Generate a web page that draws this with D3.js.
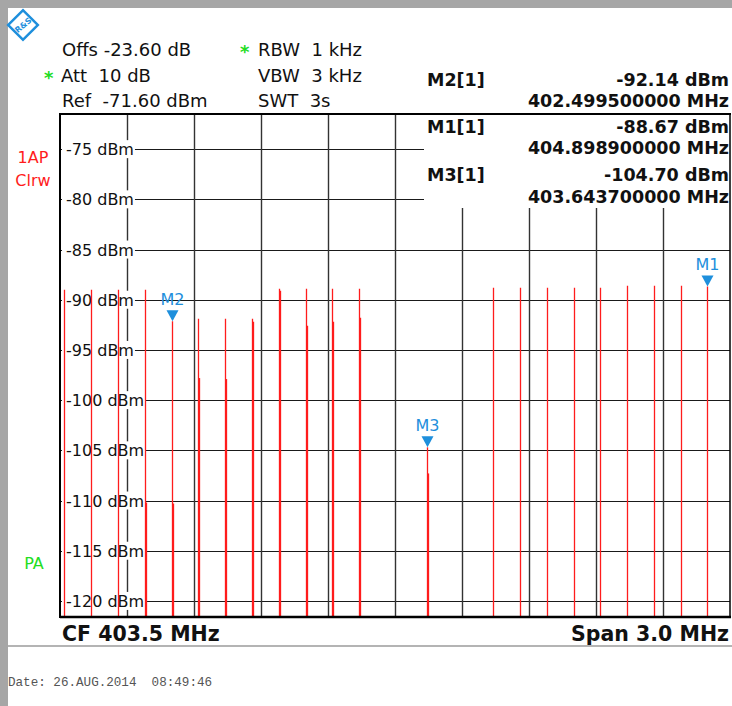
<!DOCTYPE html>
<html>
<head>
<meta charset="utf-8">
<script src="https://cdn.jsdelivr.net/npm/d3@7"></script>
<style>
  body { margin: 0; background: #fff; }
  svg { display: block; }
  text { white-space: pre; }
</style>
</head>
<body>
<svg id="screen"></svg>
<script>
// spectrum lines: frequency (MHz), peak level, level of the second pixel column
var freqs = [402.02, 402.14, 402.26, 402.38, 402.4995, 402.62, 402.74, 402.86, 402.98, 403.10, 403.22, 403.34,
             403.6437, 403.94, 404.06, 404.18, 404.30, 404.42, 404.54, 404.66, 404.78, 404.8989];
var peaks = [-89.0, -89.0, -89.0, -89.0, -92.14, -91.9, -91.9, -91.9, -88.9, -88.9, -88.9, -88.9,
             -104.70, -88.8, -88.8, -88.8, -88.8, -88.8, -88.6, -88.6, -88.6, -88.67];
var shoulders = [null, null, null, -110.2, -110.3, -97.8, -97.9, -92.2, -89.1, -92.6, -92.2, -91.8,
                 -107.3, null, null, null, null, null, null, null, null, null];

var markerNames = ["M1", "M2", "M3"];
var markerFreqs = [404.8989, 402.4995, 403.6437];
var markerLevels = [-88.67, -92.14, -104.70];

var yTicks = [-75, -80, -85, -90, -95, -100, -105, -110, -115, -120];
var xGrid = [402.3, 402.6, 402.9, 403.2, 403.5, 403.8, 404.1, 404.4, 404.7];

var tableRows = [
  ["M2[1]", "-92.14 dBm"], ["", "402.499500000 MHz"],
  ["M1[1]", "-88.67 dBm"], ["", "404.898900000 MHz"],
  ["M3[1]", "-104.70 dBm"], ["", "403.643700000 MHz"]
];

function start() {
  var width = 732, height = 706;
  var pl = 60, pr = 730, pt = 115, pb = 617;
  var red = "#ff1c1c", blue = "#1e8fdc", green = "#22dd22";

  var svg = d3.select("svg").attr("width", width).attr("height", height);

  var x = d3.scaleLinear().domain([402.0, 405.0]).range([pl, pr]);
  var y = d3.scaleLinear().domain([-121.6, -71.6]).range([pb, pt]);

  // grey screen border
  svg.append("rect").attr("x", 0).attr("y", 0).attr("width", width).attr("height", 8).attr("fill", "#a6a6a6");
  svg.append("rect").attr("x", 0).attr("y", 0).attr("width", 8).attr("height", height).attr("fill", "#a6a6a6");

  // logo
  var logo = svg.append("g").attr("transform", "translate(23,25)");
  logo.append("rect").attr("x", -10.5).attr("y", -10.5).attr("width", 21).attr("height", 21)
    .attr("transform", "rotate(45)").attr("fill", "none").attr("stroke", blue).attr("stroke-width", 2.5);
  logo.append("text").attr("text-anchor", "middle").attr("y", 3).attr("transform", "rotate(-40)")
    .attr("font-family", "DejaVu Sans").attr("font-size", 8).attr("font-weight", "bold")
    .attr("fill", blue).text("R&S");

  // header settings
  var hdr = svg.append("g").attr("font-family", "DejaVu Sans").attr("font-size", 18).attr("fill", "#111");
  hdr.append("text").attr("x", 62).attr("y", 56).text("Offs -23.60 dB");
  hdr.append("text").attr("x", 61).attr("y", 82).text("Att  10 dB");
  hdr.append("text").attr("x", 62).attr("y", 107).text("Ref  -71.60 dBm");
  hdr.append("text").attr("x", 258).attr("y", 56).text("RBW  1 kHz");
  hdr.append("text").attr("x", 258).attr("y", 82).text("VBW  3 kHz");
  hdr.append("text").attr("x", 258).attr("y", 107).text("SWT  3s");
  hdr.append("text").attr("x", 44).attr("y", 84).attr("fill", green).attr("font-weight", "bold").text("*");
  hdr.append("text").attr("x", 240).attr("y", 58).attr("fill", green).attr("font-weight", "bold").text("*");

  // side labels
  var side = svg.append("g").attr("font-family", "DejaVu Sans").attr("font-size", 16).attr("text-anchor", "middle");
  side.append("text").attr("x", 33).attr("y", 163).attr("fill", red).text("1AP");
  side.append("text").attr("x", 33).attr("y", 186).attr("fill", red).text("Clrw");
  side.append("text").attr("x", 34).attr("y", 569).attr("fill", green).text("PA");

  // grid
  var grid = svg.append("g").attr("stroke", "#1a1a1a").attr("stroke-width", 1);
  grid.selectAll(".hline").data(yTicks).enter().append("line")
    .attr("x1", pl).attr("x2", pr)
    .attr("y1", function(d) { return Math.round(y(d)) + 0.5; })
    .attr("y2", function(d) { return Math.round(y(d)) + 0.5; });
  grid.selectAll(".vline").data(xGrid).enter().append("line")
    .attr("x1", function(d) { return Math.round(x(d)) + 0.5; })
    .attr("x2", function(d) { return Math.round(x(d)) + 0.5; })
    .attr("y1", pt).attr("y2", pb)
    .attr("stroke", "#333").attr("stroke-width", 1.4);

  // y labels with white boxes
  var labels = svg.append("g").attr("font-family", "DejaVu Sans").attr("font-size", 16).attr("fill", "#111");
  yTicks.forEach(function(t) {
    var txt = labels.append("text").attr("x", 66).attr("y", Math.round(y(t)) + 6).text(t + " dBm");
    var bb = txt.node().getBBox();
    labels.insert("rect", "text").attr("x", 62).attr("y", y(t) - 9)
      .attr("width", bb.x + bb.width - 62 + 1).attr("height", 18).attr("fill", "#fff");
  });

  // spectrum lines
  var lines = freqs.map(function(f, i) { return { f: f, peak: peaks[i], sh: shoulders[i] }; });
  var trace = svg.append("g").attr("stroke", red).attr("stroke-width", 1.3);
  trace.selectAll(".peak").data(lines).enter().append("line")
    .attr("x1", function(d) { return Math.round(x(d.f)) + 0.5; })
    .attr("x2", function(d) { return Math.round(x(d.f)) + 0.5; })
    .attr("y1", pb).attr("y2", function(d) { return y(d.peak); });
  trace.selectAll(".sh").data(lines.filter(function(d) { return d.sh !== null; })).enter().append("line")
    .attr("x1", function(d) { return Math.round(x(d.f)) + 1.5; })
    .attr("x2", function(d) { return Math.round(x(d.f)) + 1.5; })
    .attr("y1", pb).attr("y2", function(d) { return y(d.sh); });

  // markers
  var mk = svg.append("g").selectAll(".marker").data(markerNames).enter().append("g")
    .attr("transform", function(d, i) { return "translate(" + (Math.round(x(markerFreqs[i])) + 0.5) + "," + y(markerLevels[i]) + ")"; });
  mk.append("path").attr("d", "M-6,-11L6,-11L0,0Z").attr("fill", blue);
  mk.append("text").attr("y", -16).attr("text-anchor", "middle").attr("font-family", "DejaVu Sans")
    .attr("font-size", 16).attr("fill", blue).text(function(d) { return d; });

  // marker table
  svg.append("rect").attr("x", 424).attr("y", pt).attr("width", pr - 424).attr("height", 93).attr("fill", "#fff");
  var tbl = svg.append("g").attr("font-family", "DejaVu Sans").attr("font-weight", "bold").attr("font-size", 17.5).attr("fill", "#111");
  var rowY = [86, 107, 133, 154, 181, 203];
  tableRows.forEach(function(r, i) {
    tbl.append("text").attr("x", 427).attr("y", rowY[i]).text(r[0]);
    tbl.append("text").attr("x", 729).attr("y", rowY[i]).attr("text-anchor", "end").text(r[1]);
  });

  // frame
  var frame = svg.append("g").attr("stroke", "#000").attr("fill", "none");
  frame.append("line").attr("x1", pl).attr("x2", pr + 1).attr("y1", pt - 1).attr("y2", pt - 1).attr("stroke-width", 2);
  frame.append("line").attr("x1", pl).attr("x2", pr + 1).attr("y1", pb).attr("y2", pb).attr("stroke-width", 2.5);
  frame.append("line").attr("x1", pl).attr("x2", pl).attr("y1", pt - 2).attr("y2", pb + 1).attr("stroke-width", 2);
  frame.append("line").attr("x1", pr).attr("x2", pr).attr("y1", pt - 2).attr("y2", pb + 1).attr("stroke-width", 1.5);

  // bottom labels
  var foot = svg.append("g").attr("font-family", "DejaVu Sans").attr("font-weight", "bold").attr("font-size", 20.5).attr("fill", "#111");
  foot.append("text").attr("x", 62).attr("y", 641).text("CF 403.5 MHz");
  foot.append("text").attr("x", 729).attr("y", 641).attr("text-anchor", "end").text("Span 3.0 MHz");

  svg.append("line").attr("x1", 8).attr("x2", width).attr("y1", 646).attr("y2", 646)
    .attr("stroke", "#b4b4b4").attr("stroke-width", 2);

  svg.append("text").attr("x", 8).attr("y", 686).attr("font-family", "Liberation Mono")
    .attr("font-size", 12.6).attr("fill", "#555").text("Date: 26.AUG.2014  08:49:46");
}

start();
</script>
</body>
</html>
